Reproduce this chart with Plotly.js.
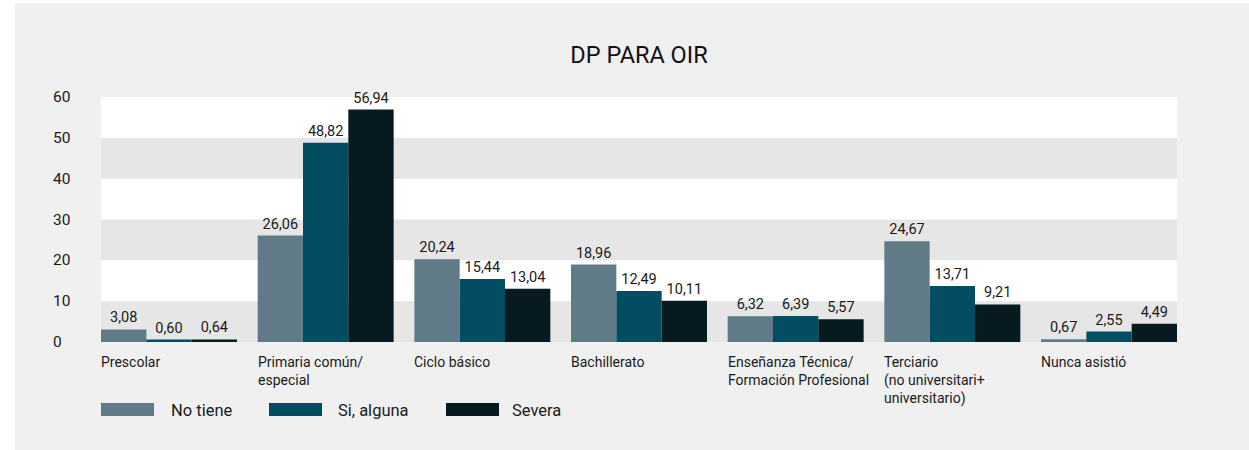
<!DOCTYPE html>
<html>
<head>
<meta charset="utf-8">
<script src="https://cdn.plot.ly/plotly-3.0.1.min.js"></script>
<style>html,body{margin:0;padding:0;background:#fff;}#chart{width:1249px;height:450px;}</style>
</head>
<body>
<div id="chart"></div>
<script>
var categories = ["Prescolar", "Primaria común/<br>especial", "Ciclo básico", "Bachillerato", "Enseñanza Técnica/<br>Formación Profesional", "Terciario<br>(no universitari+<br>universitario)", "Nunca asistió"];
var seriesNames = ["No tiene", "Si, alguna", "Severa"];
var noTiene = [3.08, 26.06, 20.24, 18.96, 6.32, 24.67, 0.67];
var siAlguna = [0.60, 48.82, 15.44, 12.49, 6.39, 13.71, 2.55];
var severa = [0.64, 56.94, 13.04, 10.11, 5.57, 9.21, 4.49];
var yTicks = [0, 10, 20, 30, 40, 50, 60];
var colors = ["#607b87", "#024d61", "#071a20"];

var FONT = "Roboto, 'Noto Sans', sans-serif";
var seriesValues = [noTiene, siAlguna, severa];
var idx = categories.map(function(_, i){ return i; });

var traces = seriesValues.map(function(vals, k){
  return {
    type: "bar",
    name: seriesNames[k],
    x: idx,
    y: vals,
    marker: {color: colors[k], line: {width: 0}},
    texttemplate: "%{y:.2f}",
    textposition: "outside",
    constraintext: "none",
    cliponaxis: false,
    textfont: {family: FONT, size: 14.5, color: "#1a1a1a"},
    hoverinfo: "skip"
  };
});

var L = 101, R = 1177, T = 97, B = 342, W = 1249, H = 450;
var pw = R - L, ph = B - T;
function px(x){ return (x - L) / pw; }
function py(y){ return (B - y) / ph; }

var shapes = [
  {type: "rect", layer: "below", xref: "paper", yref: "paper", x0: px(15), x1: px(W + 5), y0: py(3), y1: py(H + 5), fillcolor: "#f0f0f0", line: {width: 0}},
  {type: "rect", layer: "below", xref: "paper", yref: "y", x0: 0, x1: 1, y0: 0, y1: 60, fillcolor: "#ffffff", line: {width: 0}}
];
for (var b = 0; b < 60; b += 20) {
  shapes.push({type: "rect", layer: "below", xref: "paper", yref: "y", x0: 0, x1: 1, y0: b, y1: b + 10, fillcolor: "#e6e6e6", line: {width: 0}});
}

var annotations = [];
// y tick labels (left aligned)
yTicks.forEach(function(t){
  annotations.push({xref: "paper", yref: "y", x: px(51), y: t, xanchor: "left", yanchor: "middle", text: String(t), showarrow: false, font: {family: FONT, size: 15.5, color: "#1a1a1a"}});
});
// category labels, left aligned at group start
var half = 0.434;
categories.forEach(function(c, i){
  annotations.push({xref: "x", yref: "paper", x: i - half, y: 0, yanchor: "top", xanchor: "left", align: "left", yshift: -10, xshift: -2, text: c, showarrow: false, font: {family: FONT, size: 14, color: "#1a1a1a"}});
});
// legend
var swX = [101, 269, 446];
var txX = [171, 338, 512];
seriesNames.forEach(function(n, k){
  shapes.push({type: "rect", xref: "paper", yref: "paper", x0: px(swX[k]), x1: px(swX[k] + 53), y0: py(403), y1: py(416), fillcolor: colors[k], line: {width: 0}});
  annotations.push({xref: "paper", yref: "paper", x: px(txX[k] - 2), y: py(410), xanchor: "left", yanchor: "middle", text: n, showarrow: false, font: {family: FONT, size: 16.5, color: "#1a1a1a"}});
});

var layout = {
  width: W, height: H,
  margin: {l: L, r: W - R, t: T, b: H - B, pad: 0},
  paper_bgcolor: "#ffffff",
  plot_bgcolor: "rgba(0,0,0,0)",
  separators: ",.",
  title: {text: "DP PARA OIR", x: 0.5, xref: "paper", xanchor: "center", y: 1 - 55 / H, yanchor: "middle", font: {family: FONT, size: 23.5, color: "#111111"}},
  barmode: "group",
  bargap: 0.132,
  bargroupgap: 0,
  showlegend: false,
  xaxis: {type: "linear", range: [-half, 6 + half], showticklabels: false, showgrid: false, zeroline: false, showline: false, fixedrange: true},
  yaxis: {range: [0, 60], showticklabels: false, showgrid: false, zeroline: false, showline: false, fixedrange: true},
  shapes: shapes,
  annotations: annotations,
  font: {family: FONT}
};

Plotly.newPlot("chart", traces, layout, {displayModeBar: false, staticPlot: true});
</script>
</body>
</html>
